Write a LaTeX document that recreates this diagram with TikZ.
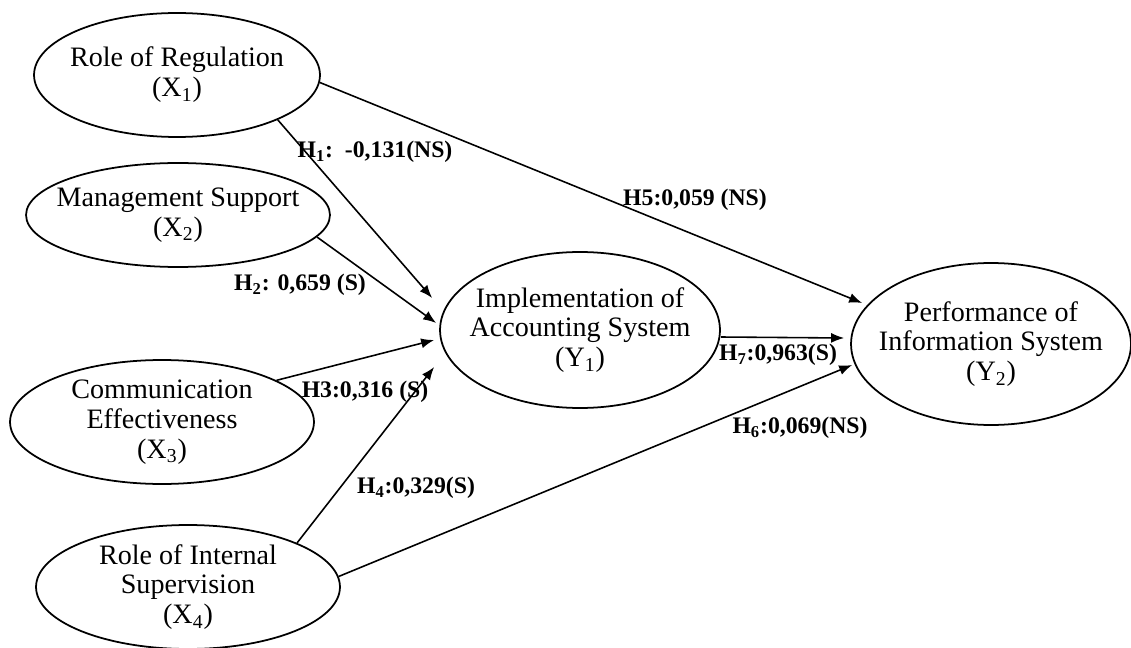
\documentclass[tikz,border=0pt]{standalone}
\usepackage{fontspec}
\setmainfont{Liberation Serif}
\usetikzlibrary{shapes.geometric,arrows.meta}

\begin{document}
\begin{tikzpicture}[x=0.02cm,y=-0.02cm,
    construct/.style={ellipse,draw,line width=1pt,inner xsep=-1cm,inner ysep=-0.3cm,
      align=center,font=\fontsize{16}{17}\selectfont},
    hyp/.style={line width=0.9pt,-{Latex[length=2.6mm,width=2mm]}},
    coef/.style={font=\fontsize{13.5}{15}\selectfont\bfseries,inner sep=1pt}]
  \useasboundingbox (0,0) rectangle (1131,648);

  %%%%%%%%%%%%%%%%%%%%%%%%%%%%%%%%%%%%%%%%%%%%%%%%%%%%%%%%%%%%%%%%%%%%%%%%%%%
  %%%%  Constructs
  \node[construct,minimum width=5.72cm,minimum height=2.48cm] (regul) at (177,75)
    {Role of Regulation\\(X\textsubscript{1})};
  \node[construct,minimum width=6.08cm,minimum height=2.08cm] (mgmt) at (178,215)
    {Management Support\\(X\textsubscript{2})};
  \node[construct,minimum width=6.08cm,minimum height=2.48cm] (comm) at (162,422)
    {Communication\\Effectiveness\\(X\textsubscript{3})};
  \node[construct,minimum width=6.08cm,minimum height=2.48cm] (supv) at (188,587)
    {Role of Internal\\Supervision\\(X\textsubscript{4})};
  \node[construct,minimum width=5.6cm,minimum height=3.12cm] (acct) at (580,330)
    {Implementation of\\Accounting System\\(Y\textsubscript{1})};
  \node[construct,minimum width=5.6cm,minimum height=3.24cm] (perf) at (991,344)
    {Performance of\\Information System\\(Y\textsubscript{2})};

  %%%%%%%%%%%%%%%%%%%%%%%%%%%%%%%%%%%%%%%%%%%%%%%%%%%%%%%%%%%%%%%%%%%%%%%%%%%
  %%%%  Paths into Y1
  \draw[hyp] (regul.-24) -- ([shift={(-7,-32)}]acct.west);
  \draw[hyp] (mgmt.-9) -- ([shift={(-3,-7)}]acct.west);
  \draw[hyp] (comm.20) -- ([shift={(-5,10)}]acct.west);
  \draw[hyp] (supv.22) -- ([shift={(-5,37)}]acct.west);

  %%%%%%%%%%%%%%%%%%%%%%%%%%%%%%%%%%%%%%%%%%%%%%%%%%%%%%%%%%%%%%%%%%%%%%%%%%%
  %%%%  Paths into Y2
  \draw[hyp] (regul.-3) -- ([shift={(12,-41)}]perf.west);
  \draw[hyp] ([shift={(0,7)}]acct.east) -- ([shift={(-6,-6)}]perf.west);
  \draw[hyp] (supv.4) -- ([shift={(2,21)}]perf.west);

  %%%%  Coefficients
  \node[coef] (h1) at (375,152) {H\textsubscript{1}:~~-0,131(NS)};
  \node[coef] (h5) at (695,200) {H5:0,059 (NS)};
  \node[coef] (h2) at (300,285) {H\textsubscript{2}: 0,659 (S)};
  \node[coef] (h3) at (365,392) {H3:0,316 (S)};
  \node[coef] (h4) at (416,488) {H\textsubscript{4}:0,329(S)};
  \node[coef] (h7) at (778,355) {H\textsubscript{7}:0,963(S)};
  \node[coef] (h6) at (800,428) {H\textsubscript{6}:0,069(NS)};
\end{tikzpicture}
\end{document}
